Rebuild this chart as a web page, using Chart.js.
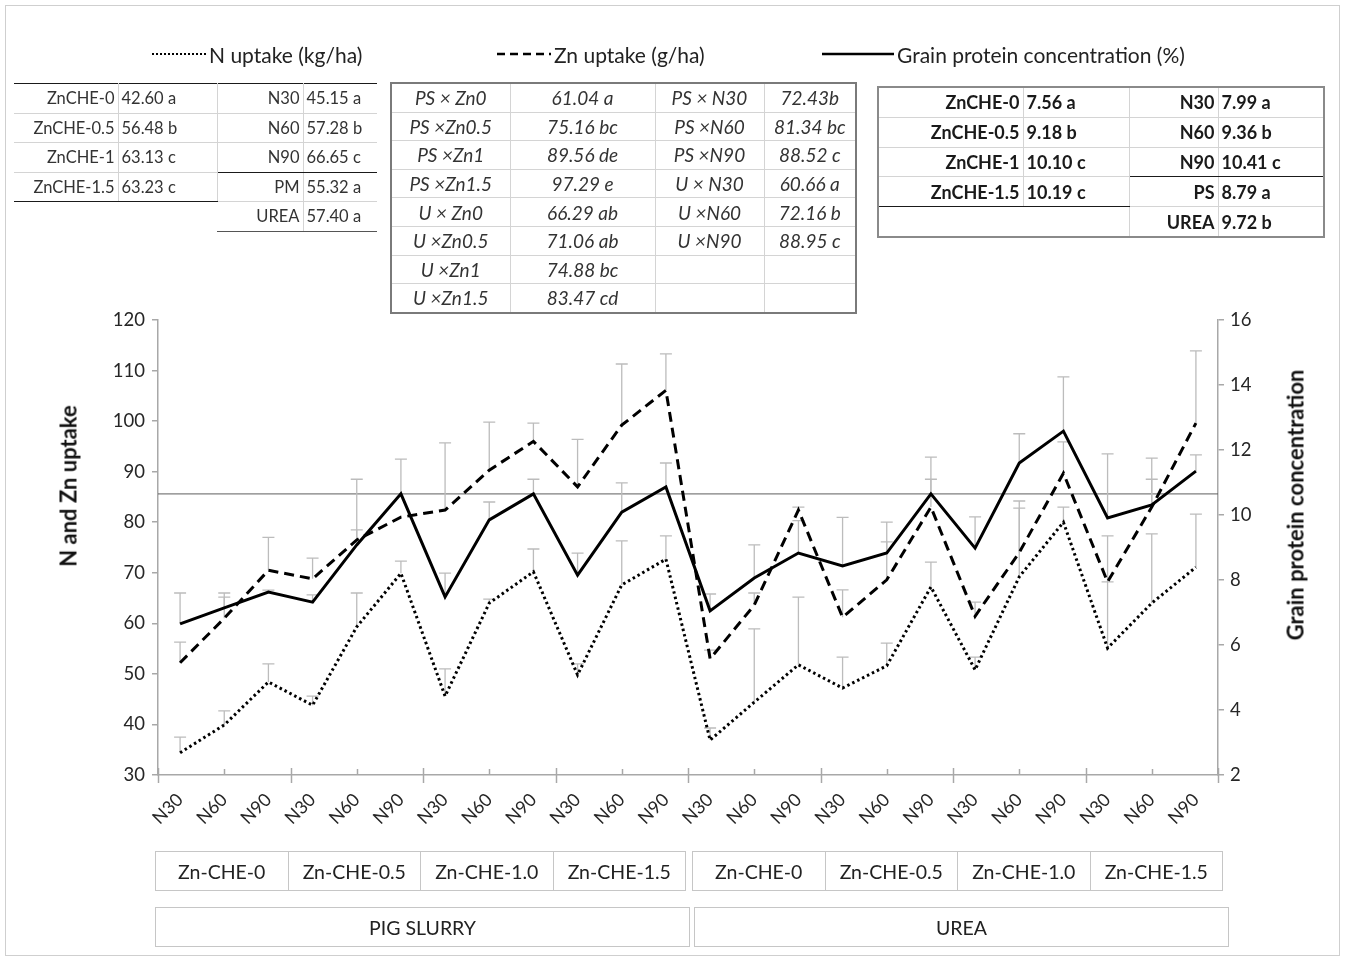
<!DOCTYPE html>
<html>
<head>
<meta charset="utf-8">
<script src="https://cdn.jsdelivr.net/npm/chart.js@4.4.1/dist/chart.umd.min.js"></script>
<style>
  html, body { margin: 0; padding: 0; background: #fff; }
  #page { position: relative; width: 1346px; height: 961px; overflow: hidden;
          font-family: Lato, "Open Sans", sans-serif; color: #262626; }
  #frame { position: absolute; left: 5px; top: 5px; width: 1335px; height: 951px;
           border: 1px solid #cfcfcf; box-sizing: border-box; }
  #chart { position: absolute; left: 0; top: 0; }
  .legend-item { position: absolute; top: 40px; height: 28px; display: flex; align-items: center;
                 font-size: 21px; white-space: nowrap; color: #222; }
  .legend-item svg { margin-right: 3px; }
  .axis-title { position: absolute; font-weight: bold; font-size: 22px; color: #111;
                white-space: nowrap; transform: translate(-50%, -50%) rotate(-90deg); }
  table.stats { position: absolute; border-collapse: collapse; table-layout: fixed; color: #333; }
  table.stats td { padding: 0; white-space: nowrap; overflow: hidden; }
  .box { position: absolute; border: 1.5px solid #c6c6c6; box-sizing: border-box;
         display: flex; align-items: center; justify-content: center; font-size: 19.5px; color: #222; }
</style>
</head>
<body>
<div id="page">
  <div id="frame"></div>
  <canvas id="chart" width="1346" height="961"></canvas>
</div>
<script>
// ---- values ----
const nLevels = ['N30', 'N60', 'N90'];
const zincRates = ['Zn-CHE-0', 'Zn-CHE-0.5', 'Zn-CHE-1.0', 'Zn-CHE-1.5'];
const sources = ['PIG SLURRY', 'UREA'];
const categories = [];
sources.forEach(() => zincRates.forEach(() => nLevels.forEach(n => categories.push(n))));

const nUptake = [34.4, 39.9, 48.4, 43.8, 59.3, 69.9, 45.6, 64.0, 70.2, 49.8, 67.6, 72.7,
                 36.9, 44.4, 51.8, 47.2, 51.6, 67.2, 50.8, 69.2, 80.0, 55.1, 64.0, 71.1];
const nUptakeErr = [3.1, 2.8, 3.6, 1.8, 6.7, 2.4, 5.4, 0.8, 4.5, 2.2, 8.7, 4.6,
                    2.4, 14.5, 13.4, 6.1, 4.5, 4.9, 2.5, 13.6, 3.0, 13.1, 13.7, 10.5];
const znUptake = [52.2, 61.0, 70.5, 68.8, 76.5, 81.0, 82.4, 90.3, 96.0, 87.0, 99.2, 106.1,
                  53.0, 63.6, 82.4, 61.2, 68.6, 83.0, 61.4, 74.0, 89.7, 68.2, 83.0, 99.6];
const znUptakeErr = [4.1, 4.2, 6.5, 4.1, 12.0, 0, 13.3, 9.5, 3.6, 9.4, 12.1, 7.2,
                     1.7, 2.4, 0.6, 5.4, 7.5, 5.5, 2.8, 10.2, 6.2, 9.1, 5.5, 14.3];
const grainProtein = [6.65, 7.14, 7.63, 7.32, 9.08, 10.65, 7.48, 9.85, 10.65, 8.15, 10.09, 10.86,
                      7.05, 8.06, 8.83, 8.43, 8.83, 10.65, 8.98, 11.60, 12.58, 9.91, 10.31, 11.35];
const grainProteinErr = [0.95, 0.46, 0.06, 0.22, 0.46, 1.07, 0.73, 0.55, 0.45, 0.68, 0.90, 0.74,
                         0.52, 1.02, 1.00, 1.50, 0.95, 1.13, 0.96, 0.90, 1.67, 1.97, 1.44, 0.50];
const referenceLevel = 85.6;

const leftTicks = { min: 30, max: 120, step: 10 };
const rightTicks = { min: 2, max: 16, step: 2 };

// mean separation tables
const nUptakeZinc = [['ZnCHE-0', '42.60 a'], ['ZnCHE-0.5', '56.48 b'], ['ZnCHE-1', '63.13 c'], ['ZnCHE-1.5', '63.23 c']];
const nUptakeNitrogen = [['N30', '45.15 a'], ['N60', '57.28 b'], ['N90', '66.65 c'], ['PM', '55.32 a'], ['UREA', '57.40 a']];
const znUptakeSourceZinc = [['PS × Zn0', '61.04 a'], ['PS ×Zn0.5', '75.16 bc'], ['PS ×Zn1', '89.56 de'], ['PS ×Zn1.5', '97.29 e'],
                            ['U × Zn0', '66.29 ab'], ['U ×Zn0.5', '71.06 ab'], ['U ×Zn1', '74.88 bc'], ['U ×Zn1.5', '83.47 cd']];
const znUptakeSourceN = [['PS × N30', '72.43b'], ['PS ×N60', '81.34 bc'], ['PS ×N90', '88.52 c'],
                         ['U × N30', '60.66 a'], ['U ×N60', '72.16 b'], ['U ×N90', '88.95 c']];
const proteinZinc = [['ZnCHE-0', '7.56 a'], ['ZnCHE-0.5', '9.18 b'], ['ZnCHE-1', '10.10 c'], ['ZnCHE-1.5', '10.19 c']];
const proteinNitrogen = [['N30', '7.99 a'], ['N60', '9.36 b'], ['N90', '10.41 c'], ['PS', '8.79 a'], ['UREA', '9.72 b']];

const seriesNames = ['N uptake (kg/ha)', 'Zn uptake (g/ha)', 'Grain protein concentration (%)'];

// ---- page furniture ----
const page = document.getElementById('page');

function addLegend(x, sampleW, dash, text) {
  const item = document.createElement('div');
  item.className = 'legend-item';
  item.style.left = x + 'px';
  item.innerHTML = `<svg width="${sampleW}" height="6"><line x1="0" y1="3" x2="${sampleW}" y2="3" stroke="#000"
     stroke-width="${dash === 'dot' ? 2 : 2.5}" stroke-dasharray="${dash === 'dot' ? '2,2' : dash === 'dash' ? '8,5' : 'none'}"/></svg>
     <span>${text}</span>`;
  page.appendChild(item);
}
addLegend(152, 54, 'dot', seriesNames[0]);
addLegend(497, 54, 'dash', seriesNames[1]);
addLegend(822, 72, 'solid', seriesNames[2]);

function addTitle(text, cx, cy) {
  const t = document.createElement('div');
  t.className = 'axis-title';
  t.textContent = text;
  t.style.left = cx + 'px';
  t.style.top = cy + 'px';
  page.appendChild(t);
}
addTitle('N and Zn uptake', 68, 486);
addTitle('Grain protein concentration', 1295, 505);

// generic table builder: style(row, col) returns css text for a cell
function buildTable(opts) {
  const tbl = document.createElement('table');
  tbl.className = 'stats';
  Object.assign(tbl.style, { left: opts.left + 'px', top: opts.top + 'px' });
  if (opts.outer) tbl.style.border = opts.outer;
  const cg = document.createElement('colgroup');
  opts.widths.forEach(w => { const c = document.createElement('col'); c.style.width = w + 'px'; cg.appendChild(c); });
  tbl.appendChild(cg);
  for (let r = 0; r < opts.rows; r++) {
    const tr = document.createElement('tr');
    tr.style.height = opts.rowH + 'px';
    for (let c = 0; c < opts.widths.length; c++) {
      const td = document.createElement('td');
      td.textContent = opts.text(r, c);
      td.style.cssText += opts.style(r, c);
      td.style.height = opts.rowH + 'px';
      tr.appendChild(td);
    }
    tbl.appendChild(tr);
  }
  page.appendChild(tbl);
}

const thin = '1px solid #d4d4d4';
const dark = '1.5px solid #1a1a1a';

// N uptake main effects
buildTable({
  left: 14, top: 83, rows: 5, rowH: 28.5, widths: [104, 99, 86, 74],
  text: (r, c) => c < 2 ? (nUptakeZinc[r] ? nUptakeZinc[r][c] : '') : nUptakeNitrogen[r][c - 2],
  style: (r, c) => {
    let s = 'font-size:16.5px;';
    s += (c % 2 === 0) ? 'text-align:right;padding-right:3px;' : 'text-align:left;padding-left:3px;';
    if (r === 0) s += 'border-top:1px solid #1a1a1a;';
    if (c < 2) {
      if (r < 3) s += 'border-bottom:' + thin + ';';
      if (r === 3) s += 'border-bottom:' + dark + ';';
      if (r < 4) s += 'border-right:' + thin + ';';
    } else {
      if (r === 2) s += 'border-bottom:1px solid #1a1a1a;';
      else if (r === 4) s += 'border-bottom:1px solid #555;';
      else s += 'border-bottom:' + thin + ';';
      if (c === 2) s += 'border-right:' + thin + ';';
    }
    return s;
  }
});

// Zn uptake interactions
buildTable({
  left: 390, top: 82, rows: 8, rowH: 27.6, widths: [119, 145, 109, 92],
  outer: '2.5px double #7a7a7a',
  text: (r, c) => c < 2 ? znUptakeSourceZinc[r][c] : (znUptakeSourceN[r] ? znUptakeSourceN[r][c - 2] : ''),
  style: (r, c) => {
    let s = 'font-size:19px;font-style:italic;text-align:center;';
    if (r < 7) s += 'border-bottom:' + thin + ';';
    if (c < 3) s += 'border-right:' + thin + ';';
    return s;
  }
});

// Grain protein main effects
buildTable({
  left: 877, top: 86, rows: 5, rowH: 28.8, widths: [145, 106, 89, 106],
  outer: '2px solid #8a8a8a',
  text: (r, c) => c < 2 ? (proteinZinc[r] ? proteinZinc[r][c] : '') : proteinNitrogen[r][c - 2],
  style: (r, c) => {
    let s = 'font-size:18px;font-weight:bold;color:#1a1a1a;';
    s += (c % 2 === 0) ? 'text-align:right;padding-right:3px;' : 'text-align:left;padding-left:3px;';
    if (c < 2) {
      if (r < 3) s += 'border-bottom:' + thin + ';';
      if (r === 3) s += 'border-bottom:' + dark + ';';
      if (r < 4) s += 'border-right:' + thin + ';';
    } else {
      if (r === 2) s += 'border-bottom:' + dark + ';';
      else if (r === 4) s += 'border-bottom:1px solid #666;';
      else s += 'border-bottom:' + thin + ';';
      if (c === 2) s += 'border-right:' + thin + ';';
      if (c === 2 && r === 4) s += 'border-left:' + thin + ';';
    }
    return s;
  }
});

// ---- chart plugins ----
const errorBars = {
  id: 'errorBars',
  beforeDatasetsDraw(chart) {
    const { ctx } = chart;
    ctx.save();
    ctx.strokeStyle = '#bcbcbc';
    ctx.lineWidth = 1.3;
    chart.data.datasets.forEach((ds, di) => {
      const meta = chart.getDatasetMeta(di);
      const yScale = chart.scales[ds.yAxisID];
      ds.errors.forEach((e, i) => {
        if (!e) return;
        const x = meta.data[i].x;
        const y0 = yScale.getPixelForValue(ds.data[i]);
        const y1 = yScale.getPixelForValue(ds.data[i] + e);
        ctx.beginPath();
        ctx.moveTo(x, y0); ctx.lineTo(x, y1);
        ctx.moveTo(x - 6, y1); ctx.lineTo(x + 6, y1);
        ctx.stroke();
      });
    });
    ctx.restore();
  }
};

const referenceLine = {
  id: 'referenceLine',
  beforeDatasetsDraw(chart) {
    const { ctx, chartArea } = chart;
    const y = chart.scales.y.getPixelForValue(referenceLevel);
    ctx.save();
    ctx.strokeStyle = '#5e5e5e';
    ctx.lineWidth = 1;
    ctx.beginPath();
    ctx.moveTo(chartArea.left, y); ctx.lineTo(chartArea.right, y);
    ctx.stroke();
    ctx.restore();
  }
};

// category axis marks: long marks at the zinc-group boundaries, short ones midway
const groupTicks = {
  id: 'groupTicks',
  afterDraw(chart) {
    const { ctx } = chart;
    const xs = chart.scales.x;
    const base = chart.chartArea.bottom;
    ctx.save();
    ctx.strokeStyle = '#a8a8a8';
    ctx.lineWidth = 1.5;
    const n = categories.length / nLevels.length * 2;
    for (let k = 0; k <= n; k++) {
      const px = Math.round(xs.getPixelForValue(-0.5 + k * nLevels.length / 2)) + 0.5;
      ctx.beginPath();
      if (k % 2 === 0) { ctx.moveTo(px, base - 7); ctx.lineTo(px, base + 8); }
      else { ctx.moveTo(px, base - 6); ctx.lineTo(px, base); }
      ctx.stroke();
    }
    ctx.restore();
  }
};

const tickFont = { family: 'Lato, "Open Sans", sans-serif', size: 18.5 };

const chart = new Chart(document.getElementById('chart'), {
  type: 'line',
  data: {
    labels: categories,
    datasets: [
      { label: seriesNames[0], data: nUptake, errors: nUptakeErr, yAxisID: 'y',
        borderColor: '#000', borderWidth: 3, borderDash: [2.5, 3], borderCapStyle: 'butt' },
      { label: seriesNames[1], data: znUptake, errors: znUptakeErr, yAxisID: 'y',
        borderColor: '#000', borderWidth: 3, borderDash: [10, 6] },
      { label: seriesNames[2], data: grainProtein, errors: grainProteinErr, yAxisID: 'y1',
        borderColor: '#000', borderWidth: 3 }
    ]
  },
  options: {
    responsive: false,
    animation: false,
    events: [],
    layout: { padding: { top: 320, left: 0, right: 0, bottom: 0 } },
    elements: { point: { radius: 0 }, line: { tension: 0, borderJoinStyle: 'miter', fill: false } },
    plugins: { legend: { display: false }, tooltip: { enabled: false } },
    scales: {
      x: {
        offset: true,
        grid: { display: false, drawTicks: false },
        border: { display: true, color: '#a8a8a8', width: 1.5 },
        ticks: { autoSkip: false, maxRotation: 45, minRotation: 45, padding: 14,
                 color: '#262626', font: { family: tickFont.family, size: 18 } },
        afterFit(s) { s.height = 186; }
      },
      y: {
        position: 'left', min: leftTicks.min, max: leftTicks.max,
        grid: { drawOnChartArea: false, tickLength: 6, color: '#a8a8a8', lineWidth: 1.5 },
        border: { display: true, color: '#a8a8a8', width: 1.5 },
        ticks: { stepSize: leftTicks.step, padding: 7, color: '#262626', font: tickFont },
        afterFit(s) { s.width = 158; }
      },
      y1: {
        position: 'right', min: rightTicks.min, max: rightTicks.max,
        grid: { drawOnChartArea: false, tickLength: 6, color: '#a8a8a8', lineWidth: 1.5 },
        border: { display: true, color: '#a8a8a8', width: 1.5 },
        ticks: { stepSize: rightTicks.step, padding: 6, color: '#262626', font: tickFont },
        afterFit(s) { s.width = 128; }
      }
    }
  },
  plugins: [referenceLine, errorBars, groupTicks]
});

// ---- treatment boxes under the category axis ----
function addBox(text, left, right, top, height) {
  const b = document.createElement('div');
  b.className = 'box';
  b.textContent = text;
  Object.assign(b.style, { left: left + 'px', top: top + 'px', width: (right - left) + 'px', height: height + 'px' });
  page.appendChild(b);
}
const xs = chart.scales.x;
const perSource = zincRates.length * nLevels.length;
sources.forEach((src, si) => {
  const shift = si === 0 ? -3 : 4;
  zincRates.forEach((zn, zi) => {
    const a = xs.getPixelForValue(si * perSource + zi * nLevels.length - 0.5) + shift;
    const b = xs.getPixelForValue(si * perSource + (zi + 1) * nLevels.length - 0.5) + shift;
    addBox(zn, a, b + 1, 851, 40);
  });
  const a = xs.getPixelForValue(si * perSource - 0.5) + (si === 0 ? -3 : 6);
  const b = xs.getPixelForValue((si + 1) * perSource - 0.5) + (si === 0 ? 2 : 11);
  addBox(src, a, b, 907, 40);
});
</script>
</body>
</html>
